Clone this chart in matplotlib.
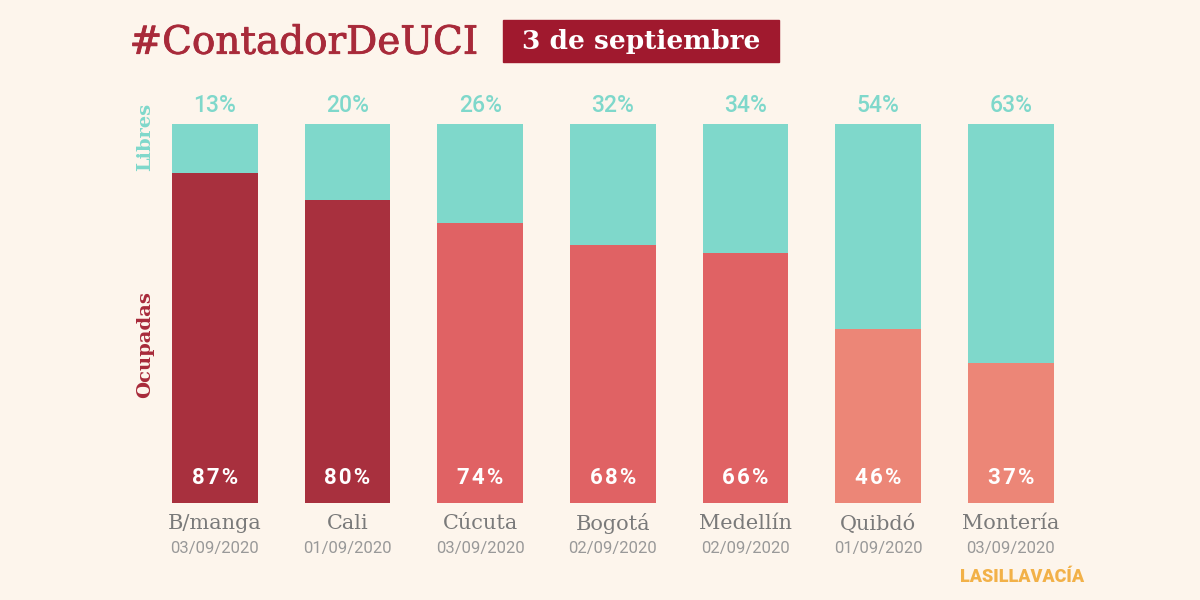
import matplotlib.pyplot as plt
import matplotlib.patheffects as pe
from matplotlib.patches import Rectangle

# Data
ciudades = ["B/manga", "Cali", "Cúcuta", "Bogotá", "Medellín", "Quibdó", "Montería"]
fechas = ["03/09/2020", "01/09/2020", "03/09/2020", "02/09/2020",
          "02/09/2020", "01/09/2020", "03/09/2020"]
ocupadas = [87, 80, 74, 68, 66, 46, 37]
libres = [13, 20, 26, 32, 34, 54, 63]

BG = "#FDF5EC"
TEAL = "#7FD8CB"
TITLE_RED = "#A82A3A"
GRAY = "#7A7A7A"


def color_ocupadas(v):
    if v >= 80:
        return "#A8303E"
    elif v >= 60:
        return "#E06264"
    return "#EC8677"


fig = plt.figure(figsize=(12, 6), dpi=100, facecolor=BG)
ax = fig.add_axes([0.1237, 0.1617, 0.774, 0.6317])
ax.set_facecolor(BG)

x = list(range(len(ciudades)))
w = 86 / 133
ax.bar(x, ocupadas, width=w, color=[color_ocupadas(v) for v in ocupadas])
ax.bar(x, libres, width=w, bottom=ocupadas, color=TEAL)

for i in x:
    ax.text(i, 100 + 4.8, f"{libres[i]}%", ha="center", va="center",
            color=TEAL, fontsize=16.5, family="Roboto", fontweight="medium")
    ax.text(i, 6.6, "\u200a".join(f"{ocupadas[i]}%"), ha="center", va="center",
            color="white", fontsize=16, family=["Roboto", "DejaVu Sans"],
            fontweight="bold")
    ax.text(i, -5.5, ciudades[i], ha="center", va="center",
            color=GRAY, fontsize=15, family="DejaVu Serif")
    ax.text(i, -12, fechas[i], ha="center", va="center",
            color="#999999", fontsize=12, family="Roboto")

ax.set_xlim(-0.5, 6.5)
ax.set_ylim(0, 100)
ax.axis("off")

# side labels
fig.text(0.121, 0.772, "Libres", rotation=90, ha="center", va="center",
         color=TEAL, fontsize=14, family="DejaVu Serif", fontweight="bold")
fig.text(0.121, 0.425, "Ocupadas", rotation=90, ha="center", va="center",
         color=TITLE_RED, fontsize=14, family="DejaVu Serif", fontweight="bold")

# title
fig.text(0.108, 0.928, "#ContadorDeUCI", ha="left", va="center",
         color=TITLE_RED, fontsize=28, family="DejaVu Serif",
         path_effects=[pe.withStroke(linewidth=0.6, foreground=TITLE_RED)])
fig.patches.append(Rectangle((503 / 1200, 1 - 62 / 600), 276 / 1200, 42 / 600,
                             transform=fig.transFigure, color="#A0192E"))
fig.text(641 / 1200, 1 - 41 / 600, "3 de septiembre", ha="center", va="center",
         color="white", fontsize=19, family="DejaVu Serif", fontweight="bold")

# logo
fig.text(1022 / 1200, 1 - 577 / 600, "LASILLAVACÍA", ha="center", va="center",
         color="#F2B148", fontsize=13, family="Roboto", fontweight="black")

fig.savefig("out.png", dpi=100, facecolor=BG)
